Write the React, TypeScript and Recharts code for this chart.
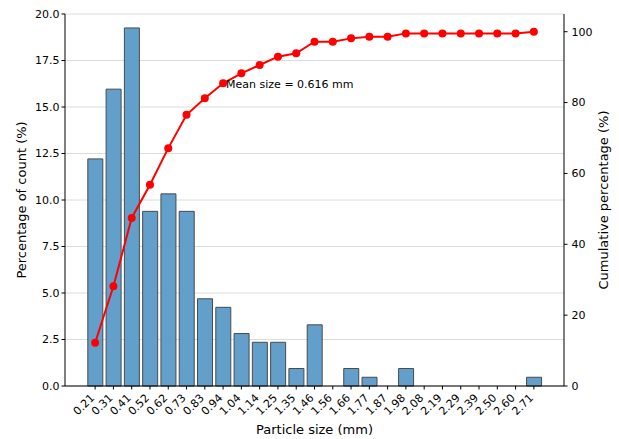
import React from 'react';
import {
  ComposedChart, Bar, Line, XAxis, YAxis, CartesianGrid, LabelList,
} from 'recharts';

// tamaños de partícula (mm)
const sizes = [
  '0.21', '0.31', '0.41', '0.52', '0.62', '0.73', '0.83', '0.94', '1.04', '1.14', '1.25', '1.35', '1.46',
  '1.56', '1.66', '1.77', '1.87', '1.98', '2.08', '2.19', '2.29', '2.39', '2.50', '2.60', '2.71',
];
// porcentaje del conteo por clase
const percentCount = [
  12.21, 15.96, 19.25, 9.39, 10.33, 9.39, 4.69, 4.23, 2.82, 2.35, 2.35, 0.94, 3.29,
  0, 0.94, 0.47, 0, 0.94, 0, 0, 0, 0, 0, 0, 0.47,
];
// porcentaje acumulado
const cumulative = [
  12.21, 28.17, 47.42, 56.81, 67.14, 76.53, 81.22, 85.45, 88.26, 90.61, 92.96, 93.9, 97.18,
  97.18, 98.12, 98.59, 98.59, 99.53, 99.53, 99.53, 99.53, 99.53, 99.53, 99.53, 100,
];
const leftTicks = [0, 2.5, 5, 7.5, 10, 12.5, 15, 17.5, 20];
const rightTicks = [0, 20, 40, 60, 80, 100];
const meanSize = 0.616;
const meanIndex = 7;

const FONT = 'DejaVu Sans, sans-serif';

const data = sizes.map((s, i) => ({ size: s, pct: percentCount[i], cum: cumulative[i] }));

const RotatedTick = (props: any) => {
  const { x, y, payload } = props;
  return (
    <g transform={`translate(${x},${y + 7})`}>
      <text x={0} y={0} textAnchor="end" transform="rotate(-45)" fontSize={11} fontFamily={FONT} fill="#000">
        {payload.value}
      </text>
    </g>
  );
};

export default function App() {
  return (
    <div style={{ position: 'absolute', left: 0, top: 0, background: '#fff' }}>
      <ComposedChart
        width={619}
        height={439}
        data={data}
        margin={{ top: 14, right: 1, left: 15, bottom: 0 }}
        barCategoryGap="10%"
      >
        <CartesianGrid yAxisId="left" vertical={false} stroke="#dcdcdc" strokeWidth={1} />
        <XAxis
          dataKey="size"
          interval={0}
          height={53}
          padding={{ left: 21, right: 21 }}
          tick={<RotatedTick />}
          tickSize={3.5}
          tickLine={{ stroke: '#000' }}
          axisLine={{ stroke: '#000' }}
          label={{
            content: () => (
              <text x={314.5} y={429} textAnchor="middle" dominantBaseline="central" fontSize={13} fontFamily={FONT} fill="#000">
                Particle size (mm)
              </text>
            ),
          }}
        />
        <XAxis xAxisId="top" orientation="top" dataKey="size" height={0} tick={false} tickLine={false} axisLine={{ stroke: '#000' }} />
        <YAxis
          yAxisId="left"
          width={50}
          domain={[0, 20]}
          ticks={leftTicks}
          tickFormatter={(v: number) => v.toFixed(1)}
          tickSize={3.5}
          tick={{ fontSize: 11, fontFamily: FONT, fill: '#000' }}
          tickLine={{ stroke: '#000' }}
          axisLine={{ stroke: '#000' }}
          label={{
            content: () => (
              <text x={21} y={200} transform="rotate(-90 21 200)" textAnchor="middle" dominantBaseline="central" fontSize={13} fontFamily={FONT} fill="#000">
                Percentage of count (%)
              </text>
            ),
          }}
        />
        <YAxis
          yAxisId="right"
          orientation="right"
          width={54}
          domain={[0, 105]}
          ticks={rightTicks}
          tickSize={3.5}
          tickMargin={4}
          tick={{ fontSize: 11, fontFamily: FONT, fill: '#000' }}
          tickLine={{ stroke: '#000' }}
          axisLine={{ stroke: '#000' }}
          label={{
            content: () => (
              <text x={603} y={200} transform="rotate(-90 603 200)" textAnchor="middle" dominantBaseline="central" fontSize={13} fontFamily={FONT} fill="#000">
                Cumulative percentage (%)
              </text>
            ),
          }}
        />
        <Bar yAxisId="left" dataKey="pct" fill="#62a0cb" stroke="#4a4a4a" strokeWidth={1} isAnimationActive={false} />
        <Line
          yAxisId="right"
          dataKey="cum"
          type="linear"
          stroke="#ff0000"
          strokeWidth={2}
          dot={{ r: 4, fill: '#ff0000', stroke: '#ff0000', strokeWidth: 0 }}
          activeDot={false}
          isAnimationActive={false}
        >
          <LabelList
            dataKey="cum"
            content={(p: any) =>
              p.index === meanIndex ? (
                <text x={p.x + 3} y={p.y + 1.5} dominantBaseline="central" fontSize={11} fontFamily={FONT} fill="#000">
                  {`Mean size = ${meanSize} mm`}
                </text>
              ) : null
            }
          />
        </Line>
      </ComposedChart>
    </div>
  );
}
